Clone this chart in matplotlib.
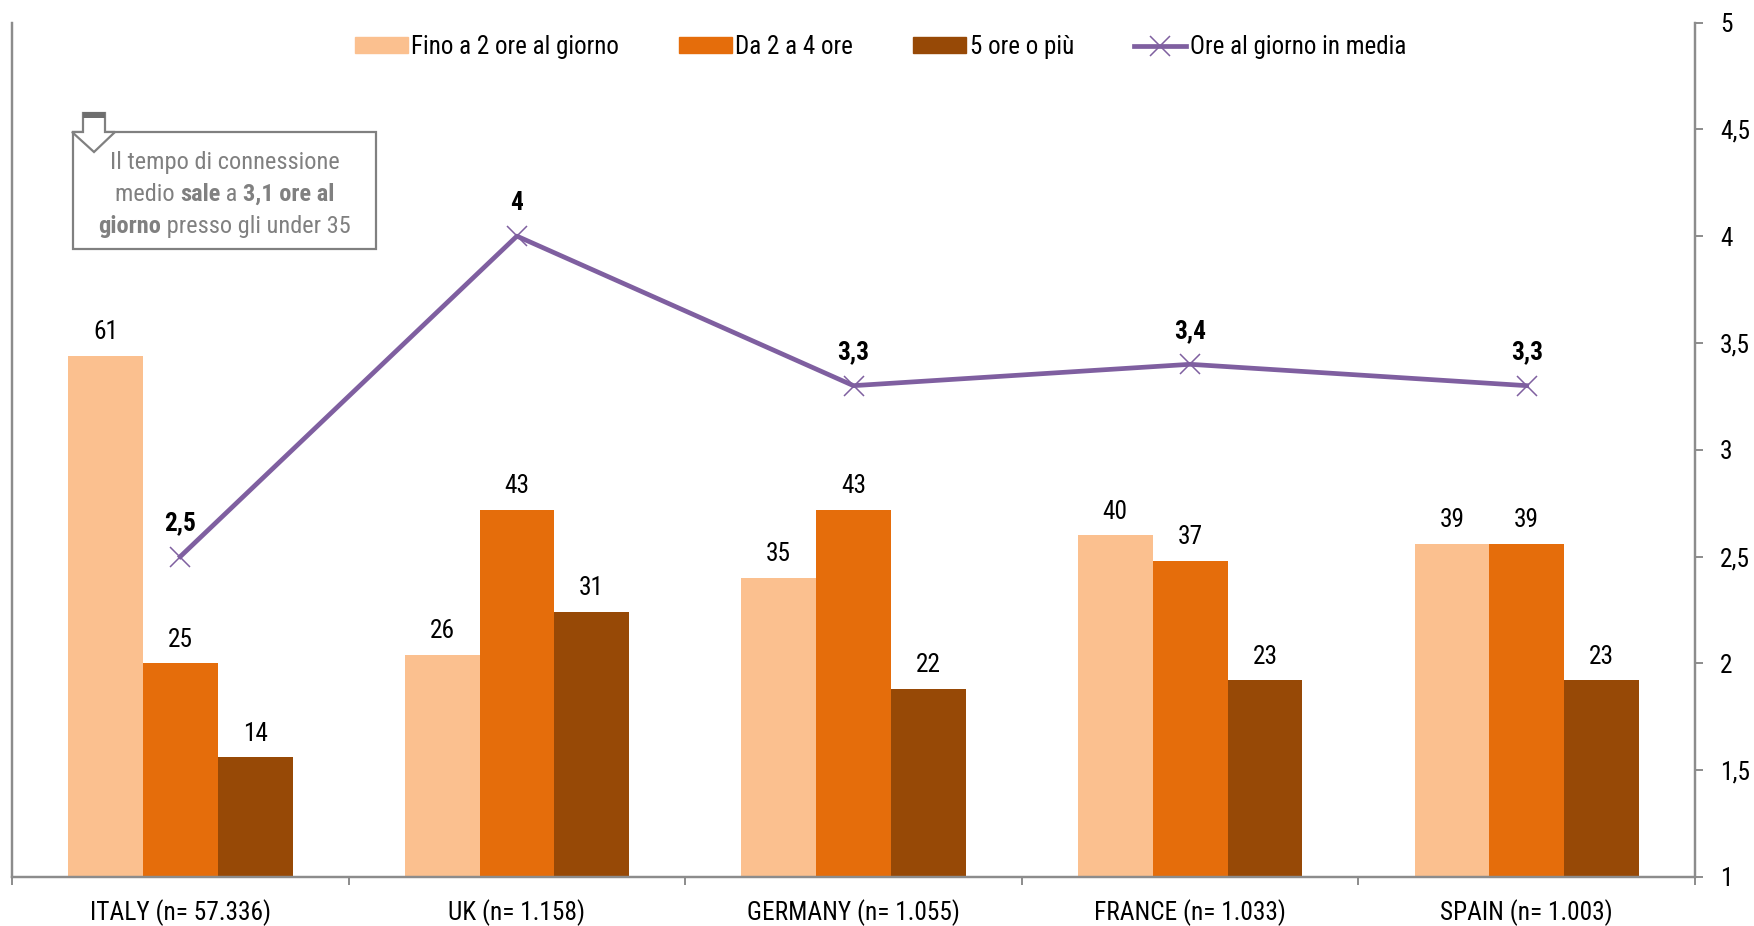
#!/usr/bin/env python3
"""Ore di connessione al giorno per paese: barre per fascia e media su asse destro."""

import matplotlib
matplotlib.use("Agg")  # headless-safe
import matplotlib.pyplot as plt
from matplotlib.patches import Polygon, Rectangle
from matplotlib.lines import Line2D
from matplotlib.transforms import Affine2D

countries = ["ITALY (n= 57.336)", "UK (n= 1.158)", "GERMANY (n= 1.055)",
             "FRANCE (n= 1.033)", "SPAIN (n= 1.003)"]
upTo2 = [61, 26, 35, 40, 39]
from2to4 = [25, 43, 43, 37, 39]
over5 = [14, 31, 22, 23, 23]
avgHours = [2.5, 4, 3.3, 3.4, 3.3]
avgLabels = ["2,5", "4", "3,3", "3,4", "3,3"]
rightTicks = [1, 1.5, 2, 2.5, 3, 3.5, 4, 4.5, 5]
rightTickLabels = ["1", "1,5", "2", "2,5", "3", "3,5", "4", "4,5", "5"]
seriesNames = ["Fino a 2 ore al giorno", "Da 2 a 4 ore", "5 ore o più", "Ore al giorno in media"]

LIGHT = "#FBC08F"
ORANGE = "#E56D0B"
BROWN = "#974906"
PURPLE = "#7F5FA0"
AXIS_GREY = "#8C8C8C"
NOTE_GREY = "#808080"
FONT = ["Roboto Condensed", "Liberation Sans", "DejaVu Sans"]
FS = 18.3
LEGEND_FS = 18
NOTE_FS = 17.6

plt.rcParams["font.family"] = FONT

W, H = 1754, 926
fig = plt.figure(figsize=(W / 100, H / 100), dpi=100, facecolor="white")
left, right, top, bottom = 12, 1695, 22.5, 877
ax = fig.add_axes([left / W, 1 - bottom / H, (right - left) / W, (bottom - top) / H])
ax2 = ax.twinx()

# Bars on the percentage axis, hours on the secondary one
barW = 1 / 4.5
xs = list(range(len(countries)))
ax.bar([x - barW for x in xs], upTo2, barW, color=LIGHT)
ax.bar(xs, from2to4, barW, color=ORANGE)
ax.bar([x + barW for x in xs], over5, barW, color=BROWN)
ax.set_xlim(-0.5, 4.5)
ax.set_ylim(0, 100)

for offset, values in ((-barW, upTo2), (0, from2to4), (barW, over5)):
    for x, v in zip(xs, values):
        ax.annotate(str(v), (x + offset, v), xytext=(0, 17), textcoords="offset points",
                    ha="center", va="center", fontsize=FS, color="black")

ax2.plot(xs, avgHours, color=PURPLE, lw=3.4, marker="x", ms=14, mew=1.1, zorder=5)
ax2.set_ylim(1, 5)
for x, v, lab in zip(xs, avgHours, avgLabels):
    ax2.annotate(lab, (x, v), xytext=(0, 24), textcoords="offset points",
                 ha="center", va="center", fontsize=FS, fontweight="bold", color="black")

ax.set_xticks([-0.5, 0.5, 1.5, 2.5, 3.5, 4.5])
ax.set_xticklabels([])
ax.set_xticks(xs, minor=True)
ax.set_xticklabels(countries, minor=True, fontsize=FS)
ax.tick_params(axis="x", which="major", length=6, width=1.4, color=AXIS_GREY)
ax.tick_params(axis="x", which="minor", length=0, pad=16)
ax.set_yticks([])

ax2.set_yticks(rightTicks)
ax2.set_yticklabels(rightTickLabels, fontsize=FS)
ax2.tick_params(axis="y", length=6, width=1.4, color=AXIS_GREY, pad=12)

for a in (ax, ax2):
    a.spines["top"].set_visible(False)
    for name in ("left", "right", "bottom"):
        a.spines[name].set_color(AXIS_GREY)
        a.spines[name].set_linewidth(1.6)

handles = [Rectangle((0, 0), 1, 1, color=LIGHT), Rectangle((0, 0), 1, 1, color=ORANGE),
           Rectangle((0, 0), 1, 1, color=BROWN),
           Line2D([], [], color=PURPLE, lw=3.4, marker="x", ms=14, mew=1.1)]
ax2.legend(handles, seriesNames, ncol=4, frameon=False, fontsize=LEGEND_FS,
           loc="center left", bbox_to_anchor=(355 / W, 1 - 47 / H), bbox_transform=fig.transFigure,
           handlelength=2.1, handleheight=0.6, handletextpad=0.15, columnspacing=2.4,
           borderpad=0, borderaxespad=0)

# Callout, laid out in pixels from the top-left corner of the figure
px = Affine2D().scale(1, -1).translate(0, H)
ax2.add_patch(Rectangle((73, 132), 303, 117, transform=px, facecolor="white",
                        edgecolor=NOTE_GREY, lw=1.6, zorder=6))
arrow = [(83, 113), (105, 113), (105, 132), (115, 132), (94, 152), (72, 132), (83, 132)]
ax2.add_patch(Polygon(arrow, closed=True, transform=px, facecolor="white",
                      edgecolor=NOTE_GREY, lw=1.6, zorder=7))
ax2.add_patch(Rectangle((83, 112), 22, 6, transform=px, facecolor="#6E6E6E",
                        edgecolor="none", zorder=8))

noteLines = [
    (160, [("Il tempo di connessione", "normal")]),
    (192, [("medio ", "normal"), ("sale", "bold"), (" a ", "normal"), ("3,1 ore al", "bold")]),
    (224, [("giorno", "bold"), (" presso gli under 35", "normal")]),
]
fig.canvas.draw()
renderer = fig.canvas.get_renderer()
noteCenter = 224.5


def run_width(text, weight):
    # Keep edge spaces measurable by bracketing them between two dots
    probe = fig.text(0, 0, "." + text + ".", fontsize=NOTE_FS, fontweight=weight)
    dots = fig.text(0, 0, "..", fontsize=NOTE_FS, fontweight=weight)
    width = probe.get_window_extent(renderer).width - dots.get_window_extent(renderer).width
    probe.remove()
    dots.remove()
    return width


for lineY, runs in noteLines:
    widths = [run_width(t, w) for t, w in runs]
    x = noteCenter - sum(widths) / 2
    for (t, w), rw in zip(runs, widths):
        ax2.text(x, lineY, t, transform=px, ha="left", va="center_baseline", fontsize=NOTE_FS,
                 fontweight=w, color=NOTE_GREY, zorder=9)
        x += rw

fig.savefig("out.png", dpi=100)
